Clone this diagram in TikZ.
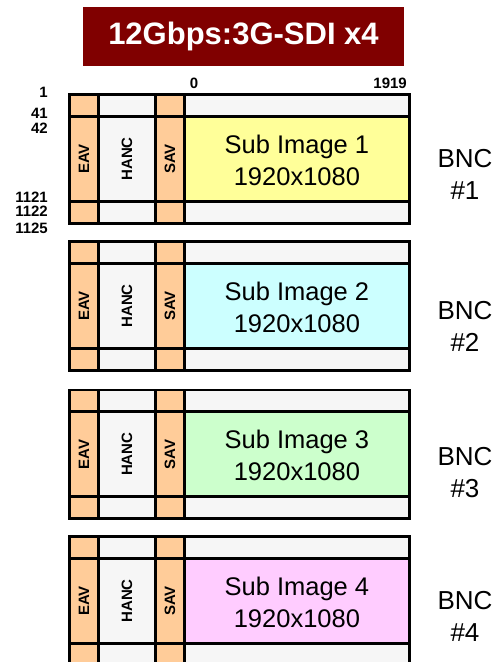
\documentclass[tikz,border=0pt]{standalone}
\usepackage{fontspec}
\setmainfont{Liberation Sans}
\definecolor{peach}{HTML}{FFCC99}
\definecolor{lgray}{HTML}{F6F6F6}
\definecolor{fillA}{HTML}{FFFF99}
\definecolor{fillB}{HTML}{CCFFFF}
\definecolor{fillC}{HTML}{CCFFCC}
\definecolor{fillD}{HTML}{FFCCFF}
\definecolor{titlered}{HTML}{800000}
\begin{document}
\begin{tikzpicture}[x=1pt,y=-1pt,
  cell/.style={draw=black, line width=2.8pt, inner sep=0pt, anchor=north west, rectangle},
  vlab/.style={rotate=90, font=\bfseries\fontsize{15}{17}\selectfont, inner sep=0pt},
  numlab/.style={font=\bfseries\fontsize{15}{17}\selectfont, inner sep=0pt},
  imglab/.style={align=center, font=\fontsize{25.5}{32}\selectfont, inner sep=0pt},
  bnclab/.style={align=center, font=\fontsize{26}{32}\selectfont, inner sep=0pt},
  titlebox/.style={fill=titlered, text=white, font=\bfseries\fontsize{31}{36}\selectfont, minimum width=321pt, minimum height=59pt, inner sep=0pt}
]
\useasboundingbox (0,0) rectangle (497,662);
\node[titlebox] (title) at (243.5,36.5) {12Gbps:3G-SDI x4};

\foreach \i/\t/\c/\by in {1/93.3/fillA/174, 2/240.3/fillB/326, 3/388.6/fillC/473, 4/535.3/fillD/616}{
  \pgfmathsetmacro{\tm}{\t+21.7}
  \pgfmathsetmacro{\tb}{\t+106.7}
  % top row
  \node[cell, fill=peach, minimum width=29pt, minimum height=21.7pt] (eavT\i) at (68,\t) {};
  \node[cell, fill=lgray, minimum width=57pt, minimum height=21.7pt] (hancT\i) at (97,\t) {};
  \node[cell, fill=peach, minimum width=29pt, minimum height=21.7pt] (savT\i) at (154,\t) {};
  \node[cell, fill=lgray, minimum width=225pt, minimum height=21.7pt] (imgT\i) at (183,\t) {};
  % bottom row
  \node[cell, fill=peach, minimum width=29pt, minimum height=21.7pt] (eavB\i) at (68,\tb) {};
  \node[cell, fill=lgray, minimum width=57pt, minimum height=21.7pt] (hancB\i) at (97,\tb) {};
  \node[cell, fill=peach, minimum width=29pt, minimum height=21.7pt] (savB\i) at (154,\tb) {};
  \node[cell, fill=lgray, minimum width=225pt, minimum height=21.7pt] (imgB\i) at (183,\tb) {};
  % middle row
  \node[cell, fill=peach, minimum width=29pt, minimum height=85pt] (eavM\i) at (68,\tm) {};
  \node[cell, fill=lgray, minimum width=57pt, minimum height=85pt] (hancM\i) at (97,\tm) {};
  \node[cell, fill=peach, minimum width=29pt, minimum height=85pt] (savM\i) at (154,\tm) {};
  \node[cell, fill=\c, minimum width=225pt, minimum height=85pt] (imgM\i) at (183,\tm) {};
  % labels
  \node[vlab] (eavL\i) at (eavM\i.center) {EAV};
  \node[vlab] (hancL\i) at (hancM\i.center) {HANC};
  \node[vlab] (savL\i) at (savM\i.center) {SAV};
  \node[imglab] (imgL\i) at ([yshift=-1.5pt]imgM\i.center) {Sub Image \i\\1920x1080};
  \node[bnclab] (bnc\i) at (465,\by) {BNC\\\#\i};
}

% line numbers (block 1)
\node[numlab, anchor=east] (n1) at (48,92) {1};
\node[numlab, anchor=east] (n41) at (48,113) {41};
\node[numlab, anchor=east] (n42) at (48,128) {42};
\node[numlab, anchor=east] (n1121) at (48,197) {1121};
\node[numlab, anchor=east] (n1122) at (48,211.5) {1122};
\node[numlab, anchor=east] (n1125) at (48,228.5) {1125};
% column numbers
\node[numlab] (c0) at (194,83) {0};
\node[numlab, anchor=east] (c1919) at (407,83) {1919};
\end{tikzpicture}
\end{document}
